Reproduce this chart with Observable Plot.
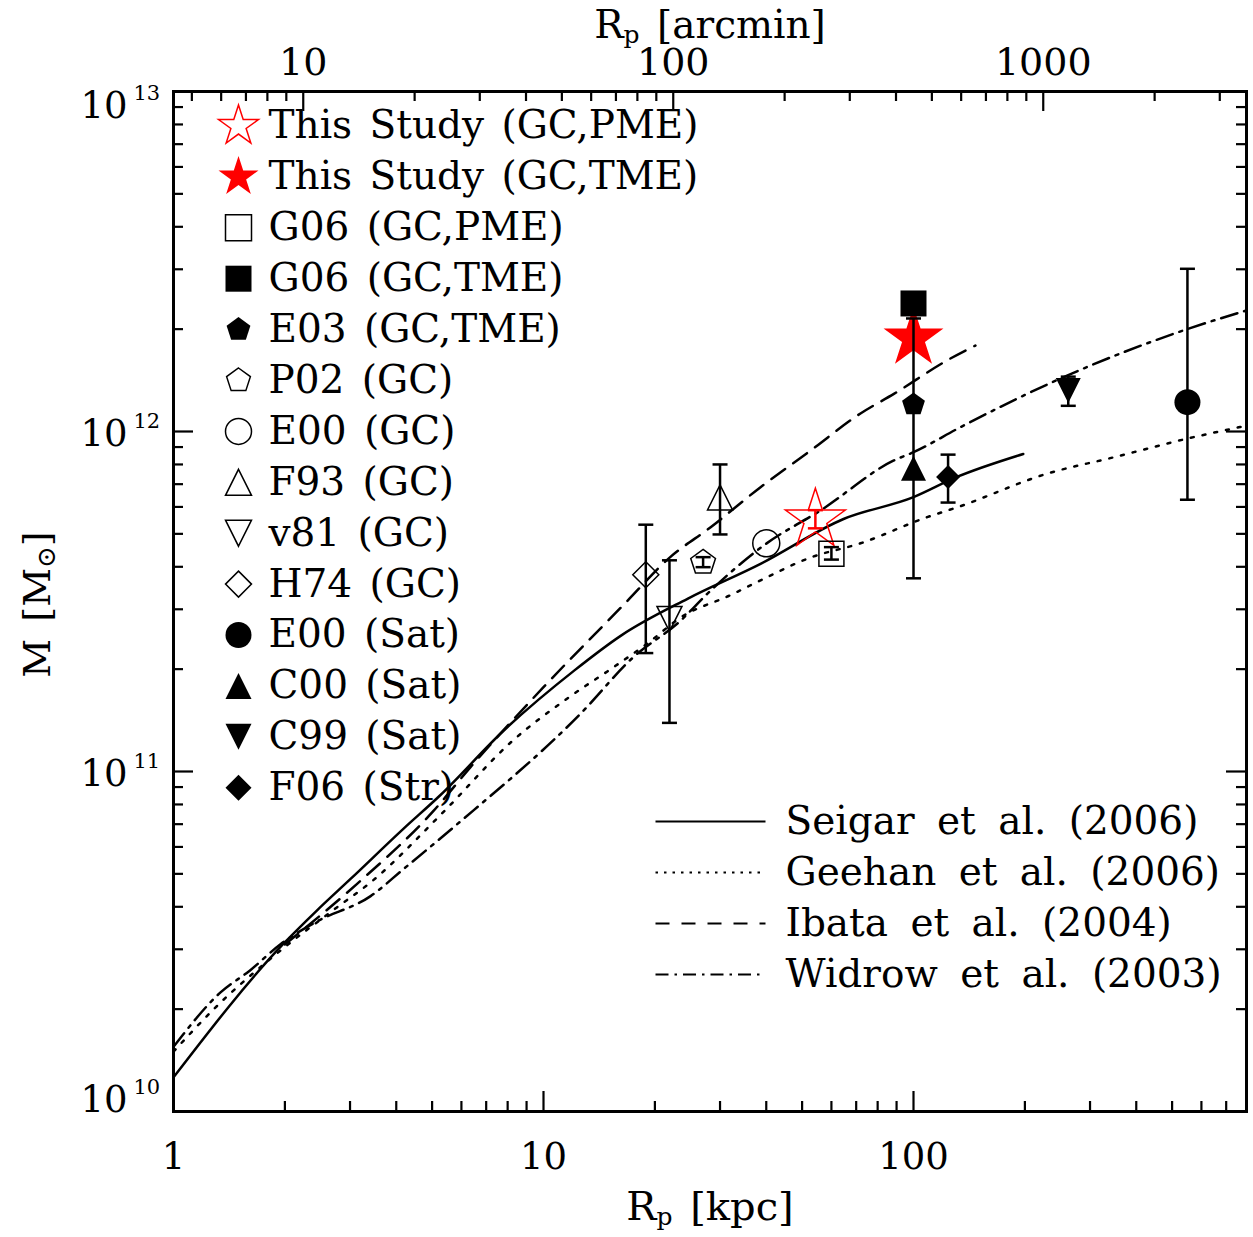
<!DOCTYPE html>
<html><head><meta charset="utf-8">
<script src="https://cdn.jsdelivr.net/npm/d3@7"></script>
<script src="https://cdn.jsdelivr.net/npm/@observablehq/plot@0.6"></script>
<style>
body{margin:0;background:#fff;}
#chart svg text{word-spacing:5px;}
</style></head><body><div id="chart"></div>
<script>
// ---------------- data ----------------
const ARCMIN_PER_KPC = 4.46;
const kpcTicks = [1, 10, 100];
const arcminTicks = [10, 100, 1000];
const massTicks = [1e10, 1e11, 1e12, 1e13];

const pointLabels = ["This Study (GC,PME)", "This Study (GC,TME)", "G06 (GC,PME)", "G06 (GC,TME)", "E03 (GC,TME)", "P02 (GC)", "E00 (GC)", "F93 (GC)", "v81 (GC)", "H74 (GC)", "E00 (Sat)", "C00 (Sat)", "C99 (Sat)", "F06 (Str)"];
const pointR  = [54.3, 100, 60, 100, 100, 27.0, 40, 30, 21.9, 18.9, 550, 100, 262, 124];
const pointM  = [5.5e11, 1.88e12, 4.37e11, 2.38e12, 1.2e12, 4.12e11, 4.69e11, 6.4e11, 2.81e11, 3.79e11, 1.22e12, 7.8e11, 1.32e12, 7.35e11];
const pointLo = [5.19e11, null, 4.2e11, null, null, 3.99e11, null, 4.98e11, 1.39e11, 2.23e11, 6.3e11, 3.7e11, 1.19e12, 6.18e11];
const pointHi = [5.87e11, null, 4.57e11, null, null, 4.27e11, null, 8.0e11, 4.18e11, 5.32e11, 3.01e12, 2.15e12, 1.45e12, 8.55e11];

const modelNames = ["Seigar et al. (2006)", "Geehan et al. (2006)", "Ibata et al. (2004)", "Widrow et al. (2003)"];
const seigarR = [1, 1.98, 2.44, 3.01, 4.18, 5.25, 7.81, 12.1, 16.2, 24.5, 38.6, 64.7, 100, 131, 198];
const seigarM = [1.26e10, 3.11e10, 3.9e10, 4.83e10, 6.78e10, 8.5e10, 1.32e11, 1.98e11, 2.51e11, 3.22e11, 4.08e11, 5.53e11, 6.41e11, 7.35e11, 8.59e11];
const geehanR = [1, 1.285, 1.95, 2.77, 3.41, 5.3, 8.31, 11.6, 15.5, 19.1, 23.5, 32, 38.6, 52.7, 71.9, 108.9, 131, 230, 348, 543, 794];
const geehanM = [1.5e10, 2.0e10, 2.98e10, 3.99e10, 4.72e10, 7.5e10, 1.24e11, 1.64e11, 2.03e11, 2.38e11, 2.84e11, 3.3e11, 3.65e11, 4.26e11, 4.69e11, 5.6e11, 5.98e11, 7.52e11, 8.4e11, 9.5e11, 1.04e12];
const ibataR = [2, 3.14, 5.05, 6.35, 10, 16.5, 22, 28.3, 38.6, 52.7, 71.9, 88.5, 123.4, 147];
const ibataM = [3.1e10, 4.68e10, 7.67e10, 1.03e11, 1.77e11, 3.1e11, 4.27e11, 5.23e11, 6.86e11, 8.79e11, 1.13e12, 1.29e12, 1.62e12, 1.79e12];
const widrowR = [1, 1.34, 1.61, 1.95, 2.44, 3.41, 4.19, 5.7, 12.6, 17.5, 23.5, 27.7, 40, 56.1, 88.5, 100, 134, 260, 549, 794];
const widrowM = [1.55e10, 2.24e10, 2.6e10, 3.11e10, 3.62e10, 4.3e10, 5.17e10, 6.84e10, 1.48e11, 2.17e11, 2.78e11, 3.33e11, 4.68e11, 5.86e11, 8.22e11, 8.69e11, 1.03e12, 1.46e12, 2.0e12, 2.27e12];

// ---------------- symbols ----------------
function sym(fn){ return {draw(c, size){ fn(c, Math.sqrt(size / Math.PI)); }}; }
const star5 = sym((c,R)=>{ const ri = R*0.382; for(let k=0;k<10;k++){ const a=-Math.PI/2+k*Math.PI/5, r=k%2?ri:R, x=r*Math.cos(a), y=r*Math.sin(a); k?c.lineTo(x,y):c.moveTo(x,y);} c.closePath(); });
const pentagon = sym((c,R)=>{ for(let k=0;k<5;k++){ const a=-Math.PI/2+k*2*Math.PI/5, x=R*Math.cos(a), y=R*Math.sin(a); k?c.lineTo(x,y):c.moveTo(x,y);} c.closePath(); });
const square = sym((c,R)=>{ c.moveTo(-R,-R); c.lineTo(R,-R); c.lineTo(R,R); c.lineTo(-R,R); c.closePath(); });
const triUp = sym((c,R)=>{ c.moveTo(0,-R); c.lineTo(R,R); c.lineTo(-R,R); c.closePath(); });
const triDown = sym((c,R)=>{ c.moveTo(0,R); c.lineTo(R,-R); c.lineTo(-R,-R); c.closePath(); });
const diamond = sym((c,R)=>{ c.moveTo(0,-R); c.lineTo(R,0); c.lineTo(0,R); c.lineTo(-R,0); c.closePath(); });
const circle = sym((c,R)=>{ c.moveTo(R,0); c.arc(0,0,R,0,2*Math.PI); c.closePath(); });
const hline = sym((c,R)=>{ c.moveTo(-R,0); c.lineTo(R,0); });

const pointStyle = {
  "This Study (GC,PME)": {symbol: star5, fill: "none", stroke: "red", r: 31.5, lr: 21, err: "red"},
  "This Study (GC,TME)": {symbol: star5, fill: "red", stroke: "none", r: 31.5, lr: 21},
  "G06 (GC,PME)": {symbol: square, fill: "none", stroke: "black", r: 12.5, lr: 13},
  "G06 (GC,TME)": {symbol: square, fill: "black", stroke: "none", r: 13, lr: 13},
  "E03 (GC,TME)": {symbol: pentagon, fill: "black", stroke: "none", r: 12, lr: 12.5},
  "P02 (GC)": {symbol: pentagon, fill: "none", stroke: "black", r: 13, lr: 12.5},
  "E00 (GC)": {symbol: circle, fill: "none", stroke: "black", r: 13.5, lr: 13},
  "F93 (GC)": {symbol: triUp, fill: "none", stroke: "black", r: 12.5, lr: 13},
  "v81 (GC)": {symbol: triDown, fill: "none", stroke: "black", r: 12.5, lr: 13},
  "H74 (GC)": {symbol: diamond, fill: "none", stroke: "black", r: 13, lr: 13},
  "E00 (Sat)": {symbol: circle, fill: "black", stroke: "none", r: 13, lr: 13},
  "C00 (Sat)": {symbol: triUp, fill: "black", stroke: "none", r: 12.5, lr: 13},
  "C99 (Sat)": {symbol: triDown, fill: "black", stroke: "none", r: 12.5, lr: 13},
  "F06 (Str)": {symbol: diamond, fill: "black", stroke: "none", r: 12, lr: 13}
};
const modelStyle = [
  {dash: null}, {dash: "3,9"}, {dash: "17,10"}, {dash: "17,7,3,7"}
];
const legendDash = [null, "2.5,6", "14,12", "13,6,2.5,6"];

// ---------------- layout ----------------
const W = 1253, H = 1237, mL = 173, mR = 7, mT = 91, mB = 126;
const fW = W - mL - mR, fH = H - mT - mB;
const FONT = "DejaVu Serif";
const LA = "middle";

const xMax = 10 ** 2.9;
const kpcMinor = [1,10,100].flatMap(e => d3.range(2,10).map(m => m*e)).filter(v => v < xMax);
const arcMinor = [1,10,100,1000].flatMap(e => d3.range(2,10).map(m => m*e)).filter(v => v/ARCMIN_PER_KPC >= 1 && v/ARCMIN_PER_KPC <= xMax && !arcminTicks.includes(v));
const massMinor = [1e10,1e11,1e12].flatMap(e => d3.range(2,10).map(m => m*e));

const models = [[seigarR, seigarM],[geehanR, geehanM],[ibataR, ibataM],[widrowR, widrowM]].map(([R,M]) => R.map((r,i)=>({R:r, M:M[i]})));

const idx = pointLabels.map((_, i) => i);
const errIdx = idx.filter(i => pointLo[i] != null);

const marks = [];
// model curves
models.forEach((data, k) => {
  marks.push(Plot.line(data, {x: "R", y: "M", stroke: "black", strokeWidth: 2.5, strokeDasharray: modelStyle[k].dash, curve: "monotone-x", clip: true}));
});
// points
idx.forEach(i => {
  const s = pointStyle[pointLabels[i]];
  marks.push(Plot.dot([i], {x: j => pointR[j], y: j => pointM[j], symbol: s.symbol, r: s.r, fill: s.fill, stroke: s.stroke, strokeWidth: 1.5}));
});
// error bars
["black","red"].forEach(col => {
  const ids = errIdx.filter(i => (pointStyle[pointLabels[i]].err || "black") === col);
  marks.push(Plot.ruleX(ids, {x: j => pointR[j], y1: j => pointLo[j], y2: j => pointHi[j], stroke: col, strokeWidth: 2.5}));
  marks.push(Plot.dot(ids, {x: j => pointR[j], y: j => pointLo[j], symbol: hline, r: 7.5, stroke: col, strokeWidth: 2.5, fill: "none"}));
  marks.push(Plot.dot(ids, {x: j => pointR[j], y: j => pointHi[j], symbol: hline, r: 7.5, stroke: col, strokeWidth: 2.5, fill: "none"}));
});
// ticks (inward)
const tw = 2.2;
marks.push(Plot.ruleX(kpcTicks, {x: d=>d, insetTop: fH-20, strokeWidth: tw}));
marks.push(Plot.ruleX(kpcMinor, {x: d=>d, insetTop: fH-10, strokeWidth: tw}));
marks.push(Plot.ruleX(arcminTicks, {x: d=>d/ARCMIN_PER_KPC, insetBottom: fH-20, strokeWidth: tw}));
marks.push(Plot.ruleX(arcMinor, {x: d=>d/ARCMIN_PER_KPC, insetBottom: fH-10, strokeWidth: tw}));
marks.push(Plot.ruleY(massTicks, {y: d=>d, insetRight: fW-20, strokeWidth: tw}));
marks.push(Plot.ruleY(massMinor, {y: d=>d, insetRight: fW-10, strokeWidth: tw}));
marks.push(Plot.ruleY(massTicks, {y: d=>d, insetLeft: fW-20, strokeWidth: tw}));
marks.push(Plot.ruleY(massMinor, {y: d=>d, insetLeft: fW-10, strokeWidth: tw}));
marks.push(Plot.frame({stroke: "black", strokeWidth: 3}));
// tick labels
marks.push(Plot.text(kpcTicks, {x: d=>d, text: d=>String(d), frameAnchor: "bottom", lineAnchor: LA, dy: 46, fontSize: 37, fill: "black"}));
marks.push(Plot.text(arcminTicks, {x: d=>d/ARCMIN_PER_KPC, text: d=>String(d), frameAnchor: "top", lineAnchor: LA, dy: -29, fontSize: 38, fill: "black"}));
function yLabels(values, s) {
  return [
    Plot.text(values, {y: d=>d, text: () => "10", frameAnchor: "left", lineAnchor: LA, textAnchor: "end", dx: -46, dy: s, fontSize: 37, fill: "black"}),
    Plot.text(values, {y: d=>d, text: d => String(Math.round(Math.log10(d))), frameAnchor: "left", lineAnchor: LA, textAnchor: "start", dx: -40, dy: s - 13, fontSize: 21, fill: "black"})
  ];
}
marks.push(...yLabels(massTicks.slice(1, -1), 3));
marks.push(...yLabels(massTicks.slice(-1), 15));
marks.push(...yLabels(massTicks.slice(0, 1), -11));
// axis titles
marks.push(Plot.text(["Rp [kpc]"], {frameAnchor: "bottom", lineAnchor: LA, textAnchor: "middle", dy: 96, text: d=>d, fontSize: 40, fill: "black"}));
marks.push(Plot.text(["Rp [arcmin]"], {frameAnchor: "top", lineAnchor: LA, textAnchor: "middle", dy: -66, text: d=>d, fontSize: 39, fill: "black"}));
marks.push(Plot.text(["M [Msun]"], {frameAnchor: "left", lineAnchor: LA, textAnchor: "middle", dx: -136, dy: 3, rotate: -90, text: d=>d, fontSize: 38, fill: "black"}));
// point legend (upper left)
pointLabels.forEach((label, i) => {
  const s = pointStyle[label];
  const dy = 34.5 + 50.9 * i;
  marks.push(Plot.dot([label], {frameAnchor: "top-left", dx: 65, dy, symbol: s.symbol, r: s.lr, fill: s.fill, stroke: s.stroke, strokeWidth: 1.5}));
  marks.push(Plot.text([label], {frameAnchor: "top-left", lineAnchor: LA, dx: 95, dy, text: d=>d, textAnchor: "start", fontSize: 39, fill: "black"}));
});
// model legend (lower right)
modelNames.forEach((name, k) => {
  const dy = 730 + 51 * k;
  marks.push(Plot.dot([name], {frameAnchor: "top-left", dx: 537, dy, symbol: hline, r: 55, stroke: "black", strokeWidth: 2, strokeDasharray: legendDash[k], fill: "none"}));
  marks.push(Plot.text([name], {frameAnchor: "top-left", lineAnchor: LA, dx: 612, dy, text: d=>d, textAnchor: "start", fontSize: 39, fill: "black"}));
});

const svg = Plot.plot({
  width: W, height: H,
  marginLeft: mL, marginRight: mR, marginTop: mT, marginBottom: mB,
  x: {type: "log", domain: [1, xMax], axis: null},
  y: {type: "log", domain: [1e10, 1e13], axis: null},
  style: {fontFamily: FONT, background: "white", color: "black"},
  marks
});

// subscripts in axis titles, wider word spacing in model legend
d3.select(svg).selectAll("text").each(function() {
  const t = this.textContent;
  const sel = d3.select(this);
  if (t === "Rp [kpc]" || t === "Rp [arcmin]") {
    const rest = t.slice(2);
    sel.text(null);
    sel.append("tspan").text("R");
    sel.append("tspan").attr("baseline-shift", "-20%").attr("font-size", "25").text("p");
    sel.append("tspan").text(rest);
  } else if (t === "M [Msun]") {
    sel.text(null);
    sel.append("tspan").text("M [M");
    sel.append("tspan").attr("baseline-shift", "-20%").attr("font-size", "26").text("\u2299");
    sel.append("tspan").text("]");
  } else if (modelNames.includes(t)) {
    sel.style("word-spacing", "10px");
  }
});
document.getElementById("chart").appendChild(svg);
</script></body></html>
